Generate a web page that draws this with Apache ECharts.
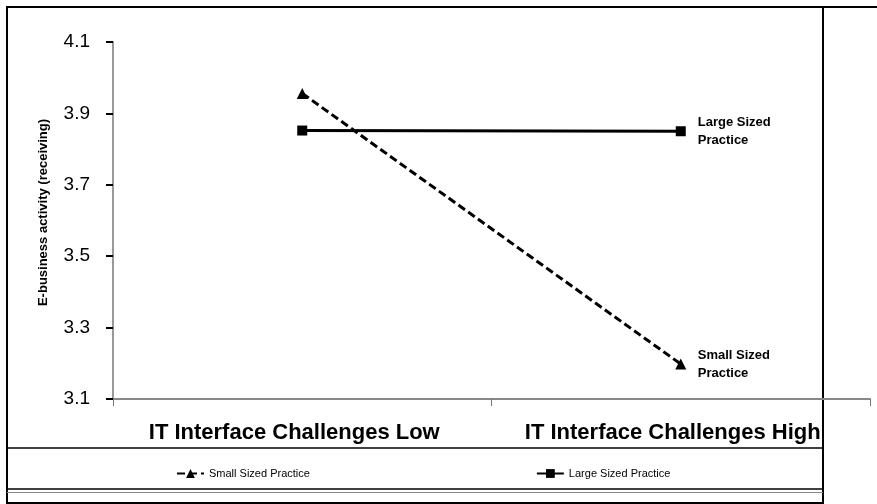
<!DOCTYPE html>
<html>
<head>
<meta charset="utf-8">
<script src="https://cdn.jsdelivr.net/npm/echarts@6/dist/echarts.min.js"></script>
<style>html,body{margin:0;padding:0;background:#fff}#c{width:877px;height:504px}</style>
</head>
<body>
<div id="c"></div>
<script>
const categories = ['IT Interface Challenges Low', 'IT Interface Challenges High'];
const smallSized = [3.956, 3.198];
const largeSized = [3.852, 3.850];
const yTicks = [3.1, 3.3, 3.5, 3.7, 3.9, 4.1];
const seriesNames = ['Small Sized Practice', 'Large Sized Practice'];
const endLabels = ['Small Sized\nPractice', 'Large Sized\nPractice'];

const chart = echarts.init(document.getElementById('c'), null, {renderer: 'canvas'});
const font = 'Liberation Sans, Arial, sans-serif';
chart.setOption({
  animation: false,
  backgroundColor: '#fff',
  textStyle: {fontFamily: font},
  grid: {left: 113, right: 7, top: 42, bottom: 105, containLabel: false},
  legend: {
    left: 171, top: 463, itemGap: 226, itemWidth: 27, itemHeight: 11,
    textStyle: {fontSize: 11, color: '#000', fontFamily: font},
    data: seriesNames
  },
  xAxis: {
    type: 'category', data: categories, boundaryGap: true,
    axisLine: {lineStyle: {color: '#888', width: 2}},
    axisTick: {show: true, length: 7, lineStyle: {color: '#777'}},
    axisLabel: {interval: 0, hideOverlap: false, fontSize: 22, fontWeight: 'bold', color: '#000', margin: 23, padding: [0, 16, 0, 0], fontFamily: font}
  },
  yAxis: {
    type: 'value', min: 3.1, max: 4.1,
    name: 'E-business activity (receiving)', nameLocation: 'middle', nameGap: 63, nameRotate: 90,
    nameTextStyle: {fontSize: 13, fontWeight: 'bold', color: '#000', padding: [0, 0, 0, 16], fontFamily: font},
    splitLine: {show: false},
    axisLine: {show: true, lineStyle: {color: '#999', width: 2}},
    axisTick: {show: true, length: 7, customValues: yTicks, lineStyle: {color: '#000', width: 2}},
    axisLabel: {fontSize: 19, color: '#000', margin: 23, customValues: yTicks, fontFamily: font,
      formatter: v => v.toFixed(1)}
  },
  series: [
    {
      name: seriesNames[0], type: 'line', data: smallSized,
      symbol: 'triangle', symbolSize: 11,
      lineStyle: {color: '#000', width: 3, type: [8, 4]},
      itemStyle: {color: '#000'},
      endLabel: {show: true, formatter: endLabels[0], fontSize: 13, fontWeight: 'bold', color: '#000', distance: 17, lineHeight: 18, fontFamily: font}
    },
    {
      name: seriesNames[1], type: 'line', data: largeSized,
      symbol: 'rect', symbolSize: 10,
      lineStyle: {color: '#000', width: 3},
      itemStyle: {color: '#000'},
      endLabel: {show: true, formatter: endLabels[1], fontSize: 13, fontWeight: 'bold', color: '#000', distance: 17, lineHeight: 18, fontFamily: font}
    }
  ],
  graphic: [
    {type: 'line', shape: {x1: 6, y1: 7, x2: 877, y2: 7}, style: {stroke: '#000', lineWidth: 2}},
    {type: 'line', shape: {x1: 7, y1: 7, x2: 7, y2: 504}, style: {stroke: '#000', lineWidth: 2}},
    {type: 'line', shape: {x1: 823, y1: 7, x2: 823, y2: 504}, style: {stroke: '#000', lineWidth: 2}},
    {type: 'line', shape: {x1: 7, y1: 448, x2: 823, y2: 448}, style: {stroke: '#000', lineWidth: 1.5}},
    {type: 'line', shape: {x1: 7, y1: 489, x2: 823, y2: 489}, style: {stroke: '#000', lineWidth: 1.5}},
    {type: 'line', shape: {x1: 7, y1: 492.5, x2: 823, y2: 492.5}, style: {stroke: '#888', lineWidth: 1}},
    {type: 'line', shape: {x1: 7, y1: 503, x2: 823, y2: 503}, style: {stroke: '#000', lineWidth: 2}}
  ]
});
</script>
</body>
</html>
